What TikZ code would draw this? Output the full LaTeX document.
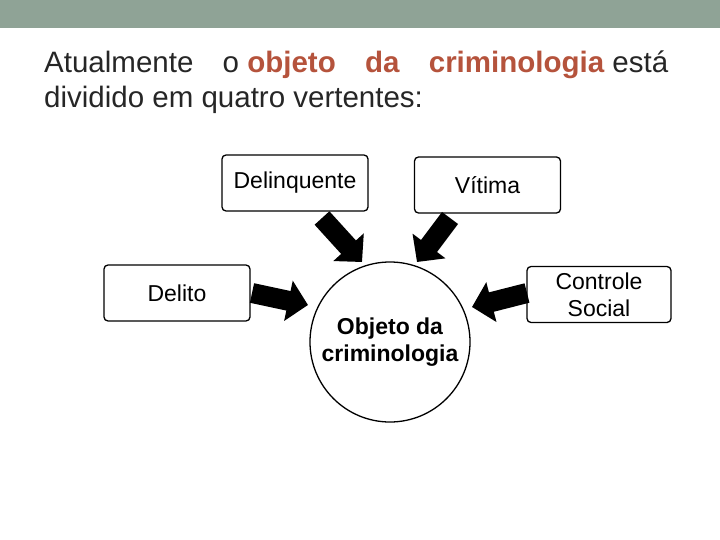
\documentclass[tikz,border=0pt]{standalone}
\usepackage{fontspec}
\setmainfont{Liberation Sans}
\usetikzlibrary{arrows.meta}
\definecolor{band}{HTML}{8FA396}
\definecolor{hl}{HTML}{B5533C}
\definecolor{tx}{HTML}{262626}
\begin{document}
\begin{tikzpicture}[x=1pt,y=-1pt,
  box/.style={draw, line width=1.3pt, rounded corners=4pt, minimum width=146pt, minimum height=56pt, font=\fontsize{23}{25}\selectfont, align=center, inner sep=2pt},
  bigarrow/.style={line width=20pt, -{Triangle[width=40pt,length=20pt]}}]
\useasboundingbox (0,0) rectangle (720,540);
\fill[band] (0,0) rectangle (720,28);
\node[anchor=base west, text=tx, font=\fontsize{29.5}{34}\selectfont, inner sep=0] (l1) at (44,73)
 {\hbox to 624pt{Atualmente\hfill o \textcolor{hl}{\bfseries objeto}\hfill\textcolor{hl}{\bfseries da}\hfill\textcolor{hl}{\bfseries criminologia} está}};
\node[anchor=base west, text=tx, font=\fontsize{29.5}{34}\selectfont, inner sep=0] (l2) at (44,108) {dividido em quatro vertentes:};
\node[box] (dq) at (295,183) {Delinquente};
\node[box] (vt) at (487.5,185) {Vítima};
\node[box] (dl) at (177,293) {Delito};
\node[box, minimum width=144pt, font=\fontsize{23}{27}\selectfont] (cs) at (599,294.5) {Controle\\Social};
\node[draw, circle, line width=1.3pt, minimum size=160pt, align=center, font=\bfseries\fontsize{23}{27}\selectfont, inner sep=0] (ob) at (390,342) {Objeto da\\criminologia};
\coordinate (a1s) at (322,218); \coordinate (a1e) at (362,262);
\coordinate (a2s) at (450,218); \coordinate (a2e) at (417,262);
\coordinate (a3s) at (252,293); \coordinate (a3e) at (308,305);
\coordinate (a4s) at (527,293); \coordinate (a4e) at (472,307);
\draw[bigarrow] (a1s) -- (a1e);
\draw[bigarrow] (a2s) -- (a2e);
\draw[bigarrow] (a3s) -- (a3e);
\draw[bigarrow] (a4s) -- (a4e);
\end{tikzpicture}
\end{document}
